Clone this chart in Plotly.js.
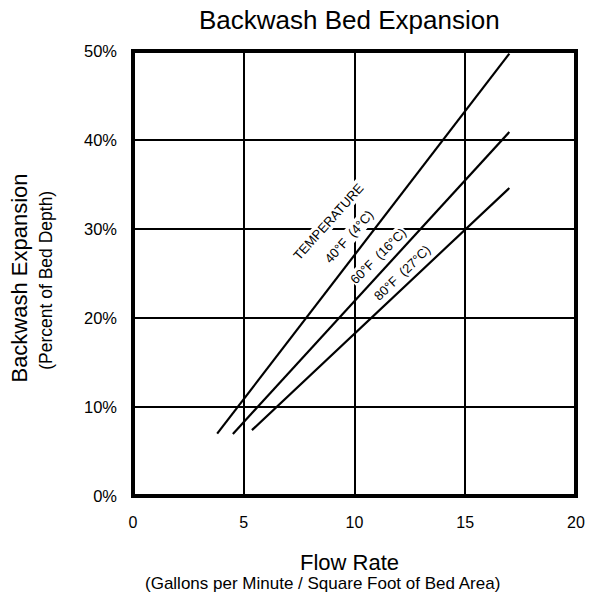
<!DOCTYPE html>
<html>
<head>
<meta charset="utf-8">
<script src="https://cdn.plot.ly/plotly-3.0.1.min.js"></script>
<style>html,body{margin:0;padding:0;background:#fff}#chart{width:590px;height:594px}</style>
</head>
<body>
<div id="chart"></div>
<script>
// Flow rate (gpm / sq ft) and bed expansion (%)
const flow40F = [3.80, 10.9, 16.99];
const exp40F  = [7.0, 30.0, 49.7];
const flow60F = [4.51, 9.30, 16.99];
const exp60F  = [6.97, 20.0, 40.9];
const flow80F = [5.37, 10.75, 16.99];
const exp80F  = [7.4, 20.0, 34.6];

const xTicks = [0, 5, 10, 15, 20];
const yTicks = [0, 10, 20, 30, 40, 50];
const yTickText = ['0%', '10%', '20%', '30%', '40%', '50%'];

const labelText = ['TEMPERATURE', '40°F  (4°C)', '60°F  (16°C)', '80°F  (27°C)'];
const labelX = [8.84, 9.75, 11.1, 12.17];
const labelY = [30.8, 29.2, 27.0, 25.1];
const labelAngle = [-48, -48, -45, -44];

const FONT = 'Liberation Sans, Arial, sans-serif';
const lineStyle = {color: '#000', width: 2.2};

const traces = [
  {x: flow40F, y: exp40F, name: '40°F', mode: 'lines', line: lineStyle},
  {x: flow60F, y: exp60F, name: '60°F', mode: 'lines', line: lineStyle},
  {x: flow80F, y: exp80F, name: '80°F', mode: 'lines', line: lineStyle}
];

const annotations = labelText.map((t, i) => ({
  x: labelX[i], y: labelY[i], xref: 'x', yref: 'y', text: t, showarrow: false,
  textangle: labelAngle[i], font: {family: FONT, size: 13, color: '#000'},
  bgcolor: '#fff', borderpad: 0, xanchor: 'center', yanchor: 'middle'
}));

annotations.push(
  {xref: 'paper', yref: 'paper', x: 0.488, y: -0.149, text: 'Flow Rate', showarrow: false,
   font: {family: FONT, size: 22, color: '#000'}, xanchor: 'center', yanchor: 'middle'},
  {xref: 'paper', yref: 'paper', x: 0.427, y: -0.197, text: '(Gallons per Minute / Square Foot of Bed Area)', showarrow: false,
   font: {family: FONT, size: 17, color: '#000'}, xanchor: 'center', yanchor: 'middle'},
  {xref: 'paper', yref: 'paper', x: -0.256, y: 0.49, text: 'Backwash Expansion', showarrow: false, textangle: -90,
   font: {family: FONT, size: 22, color: '#000'}, xanchor: 'center', yanchor: 'middle'},
  {xref: 'paper', yref: 'paper', x: -0.195, y: 0.485, text: '(Percent of Bed Depth)', showarrow: false, textangle: -90,
   font: {family: FONT, size: 17.5, color: '#000'}, xanchor: 'center', yanchor: 'middle'},
  {xref: 'paper', yref: 'paper', x: 0.4876, y: 1.069, text: 'Backwash Bed Expansion', showarrow: false,
   font: {family: FONT, size: 26, color: '#000'}, xanchor: 'center', yanchor: 'middle'}
);

const layout = {
  width: 590, height: 594,
  margin: {l: 133, r: 14, t: 51, b: 98},
  paper_bgcolor: '#fff', plot_bgcolor: '#fff',
  showlegend: false,
  font: {family: FONT, size: 16, color: '#000'},
  xaxis: {
    range: [0, 20], tickvals: xTicks, ticktext: xTicks.map(String),
    showgrid: true, gridcolor: '#000', gridwidth: 2, zeroline: false,
    showline: false, ticks: '', ticklabelstandoff: 15,
    tickfont: {family: FONT, size: 16, color: '#000'}, fixedrange: true
  },
  yaxis: {
    range: [0, 50], tickvals: yTicks, ticktext: yTickText,
    showgrid: true, gridcolor: '#000', gridwidth: 2, zeroline: false,
    showline: false, ticks: '', ticklabelstandoff: 15,
    tickfont: {family: FONT, size: 16.5, color: '#000'}, fixedrange: true
  },
  shapes: [{
    type: 'rect', xref: 'paper', yref: 'paper', x0: 0, x1: 1, y0: 0, y1: 1,
    line: {color: '#000', width: 4}, layer: 'above'
  }],
  annotations: annotations
};

Plotly.newPlot('chart', traces, layout, {displayModeBar: false, staticPlot: true});
</script>
</body>
</html>
